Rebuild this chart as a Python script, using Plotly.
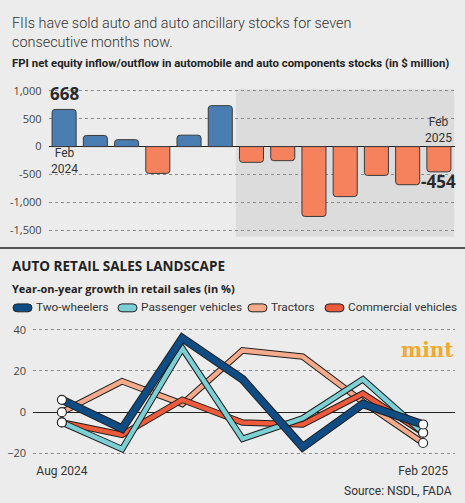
import plotly.graph_objects as go

W, H = 465, 503

# ---- data: FPI flows (in $ million) ----
months = ["Feb 2024", "Mar 2024", "Apr 2024", "May 2024", "Jun 2024", "Jul 2024",
          "Aug 2024", "Sep 2024", "Oct 2024", "Nov 2024", "Dec 2024", "Jan 2025", "Feb 2025"]
fpi_flow = [668, 200, 125, -482, 205, 736, -283, -253, -1256, -899, -518, -685, -454]
fpi_ticks = [1000, 500, 0, -500, -1000, -1500]

# ---- data: retail sales growth (in %) ----
sales_months = ["Aug 2024", "Sep 2024", "Oct 2024", "Nov 2024", "Dec 2024", "Jan 2025", "Feb 2025"]
two_wheelers = [6, -8, 36, 16, -17, 4, -6]
passenger_vehicles = [-5, -18, 31, -13, -3, 16, -10]
tractors = [0, 15, 4, 30, 27, 5, -15]
commercial_vehicles = [-5, -11, 6, -5, -6, 9, -10]
sales_ticks = [40, 20, 0, -20]

BG = "#ececec"
SHADE = "#dcdcdc"
TXT = "#333333"
FONT = "Open Sans"
NARROW = "Roboto"


def px(x):
    return x / W


def py(y):
    return 1 - y / H


fig = go.Figure()

# ---------------- top chart ----------------
bar_colors = ["#4a7eb3" if v >= 0 else "#f5825c" for v in fpi_flow]
fig.add_trace(go.Bar(
    x=months, y=fpi_flow, marker=dict(color=bar_colors, line=dict(color="#3a3a3a", width=1), cornerradius=3),
    width=0.77, xaxis="x", yaxis="y", showlegend=False, hoverinfo="x+y"))

# ---------------- bottom chart ----------------
series = [
    ("Tractors", tractors, "#f5aa8c", 4.5),
    ("Commercial vehicles", commercial_vehicles, "#ee5b3c", 4.5),
    ("Passenger vehicles", passenger_vehicles, "#7ccfd5", 4.5),
    ("Two-wheelers", two_wheelers, "#0e4c83", 6.5),
]
for name, vals, col, w in series:
    fig.add_trace(go.Scatter(x=sales_months, y=vals, mode="lines", xaxis="x2", yaxis="y2",
                             line=dict(color="#1e1e1e", width=w + 2), showlegend=False, hoverinfo="skip"))
    fig.add_trace(go.Scatter(x=sales_months, y=vals, mode="lines", xaxis="x2", yaxis="y2", name=name,
                             line=dict(color=col, width=w), showlegend=False))
for name, vals, col, w in series:
    fig.add_trace(go.Scatter(x=[sales_months[0], sales_months[-1]], y=[vals[0], vals[-1]], mode="markers",
                             xaxis="x2", yaxis="y2", showlegend=False, hoverinfo="skip",
                             marker=dict(size=9, color="white", line=dict(color="#2a2a2a", width=1.2))))

shapes = [
    # shaded period (Aug 2024 onwards)
    dict(type="rect", xref="x", yref="y domain", x0=5.5, x1=12.5, y0=0, y1=1,
         fillcolor=SHADE, line=dict(width=0), layer="below"),
    # divider between the two panels
    dict(type="line", xref="paper", yref="paper", x0=0, x1=1, y0=py(245), y1=py(245),
         line=dict(color="#222222", width=1.5)),
]


def note(text, x, y, size, color=TXT, family=FONT, xanchor="left", yanchor="middle", align="left", weight=None):
    font = dict(family=family, size=size, color=color)
    if weight:
        font["weight"] = weight
    return dict(text=text, x=px(x), y=py(y), xref="paper", yref="paper", xanchor=xanchor, yanchor=yanchor,
                align=align, font=font, showarrow=False)


annotations = [
    note("FIIs have sold auto and auto ancillary stocks for seven<br>consecutive months now.",
         10, 27.5, 14.4, "#333333", family=NARROW, weight=300),
    note("<b>FPI net equity inflow/outflow in automobile and auto components stocks (in $ million)</b>",
         10, 58, 11.4, "#222222", family=NARROW),
    note("<b>AUTO RETAIL SALES LANDSCAPE</b>", 10, 263.5, 13.5, "#222222"),
    note("<b>Year-on-year growth in retail sales (in %)</b>", 10, 285.5, 11, "#222222"),
    note("<b>mint</b>", 456, 348, 20, "#f0a92e", family="DejaVu Serif", xanchor="right"),
    note("Source: NSDL, FADA", 454, 491, 12, family=NARROW, xanchor="right"),
    dict(text="<b>668</b>", x=months[0], y=fpi_flow[0], xref="x", yref="y", yanchor="bottom",
         yshift=2, font=dict(family=FONT, size=17, color="#2a2a2a"), showarrow=False),
    dict(text="Feb<br>2024", x=months[0], y=0, xref="x", yref="y", yanchor="top", yshift=3,
         font=dict(family=NARROW, size=12, color=TXT), showarrow=False),
    dict(text="Feb<br>2025", x=months[-1], y=0, xref="x", yref="y", yanchor="bottom", yshift=0,
         font=dict(family=NARROW, size=12, color=TXT), showarrow=False),
    dict(text="<b>-454</b>", x=months[-1], y=fpi_flow[-1], xref="x", yref="y", yanchor="top",
         yshift=4, font=dict(family=FONT, size=17, color="#2a2a2a"), showarrow=False),
]

# legend: capsules + labels
legend_items = [("Two-wheelers", "#0e4c83", 13), ("Passenger vehicles", "#7ccfd5", 118),
                ("Tractors", "#f5aa8c", 248), ("Commercial vehicles", "#ee5b3c", 325)]
for name, col, x0 in legend_items:
    x1, yc, r = x0 + 19, 305.5, 4
    path = (f"M {px(x0 + r)},{py(yc - r)} L {px(x1 - r)},{py(yc - r)} "
            f"Q {px(x1)},{py(yc - r)} {px(x1)},{py(yc)} Q {px(x1)},{py(yc + r)} {px(x1 - r)},{py(yc + r)} "
            f"L {px(x0 + r)},{py(yc + r)} Q {px(x0)},{py(yc + r)} {px(x0)},{py(yc)} "
            f"Q {px(x0)},{py(yc - r)} {px(x0 + r)},{py(yc - r)} Z")
    shapes.append(dict(type="path", xref="paper", yref="paper", path=path, fillcolor=col,
                       line=dict(color="#222222", width=1)))
    annotations.append(note(name, x1 + 2, yc - 0.5, 11.8, family=NARROW))

tickfont = dict(family=FONT, size=11, color="#444444")
fig.update_layout(
    width=W, height=H, margin=dict(l=0, r=0, t=0, b=0),
    paper_bgcolor=BG, plot_bgcolor="rgba(0,0,0,0)",
    shapes=shapes, annotations=annotations, bargap=0.23,
    xaxis=dict(domain=[px(48.5), px(454.5)], range=[-0.5, 12.5], showticklabels=False,
               showgrid=False, zeroline=False, fixedrange=True, anchor="y"),
    yaxis=dict(domain=[py(233.5), py(84.3)], range=[-1620, 1030], tickvals=fpi_ticks,
               ticktext=[f"{v:,}" for v in fpi_ticks], tickfont=tickfont, showgrid=True,
               gridcolor="#8c8c8c", griddash="dot", gridwidth=1, zeroline=True, zerolinecolor="#222222",
               zerolinewidth=1.2, ticks="", ticklabelstandoff=6, anchor="x"),
    xaxis2=dict(domain=[px(33), px(455)], range=[-0.48, 6.53], tickvals=[sales_months[0], sales_months[-1]],
                ticktext=["Aug 2024", "Feb 2025"], tickfont=dict(family=NARROW, size=12, color=TXT),
                showgrid=False, zeroline=False, ticks="", anchor="y2"),
    yaxis2=dict(domain=[py(461), py(323.6)], range=[-24, 42], tickvals=sales_ticks, tickfont=tickfont,
                showgrid=True, gridcolor="#8c8c8c", griddash="dot", gridwidth=1, zeroline=True,
                zerolinecolor="#222222", zerolinewidth=1.2, ticks="", ticklabelstandoff=6, anchor="x2"),
)

fig.write_html("out.html", config={"displayModeBar": False},
               post_script="document.body.style.margin='0px';")
